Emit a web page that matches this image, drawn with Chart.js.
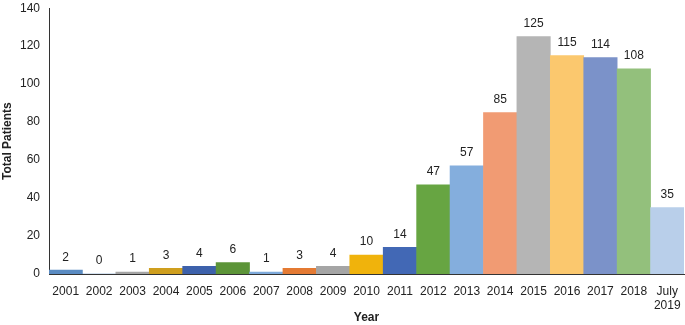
<!DOCTYPE html>
<html>
<head>
<meta charset="utf-8">
<script src="https://cdn.jsdelivr.net/npm/chart.js@4"></script>
<style>
  html, body { margin: 0; padding: 0; background: #fff; overflow: hidden; }
  #wrap { width: 685px; height: 325px; }
</style>
</head>
<body>
<div id="wrap"><canvas id="patients"></canvas></div>
<script>
var years = ["2001","2002","2003","2004","2005","2006","2007","2008","2009","2010",
             "2011","2012","2013","2014","2015","2016","2017","2018",["July","2019"]];
var patients = [2, 0, 1, 3, 4, 6, 1, 3, 4, 10, 14, 47, 57, 85, 125, 115, 114, 108, 35];
var barColors = ["#5a8bc2","#5a8bc2","#a5a5a5","#cf9f1e","#3d61ab","#5c9438","#7eaadb","#e47a33",
                 "#a5a5a5","#f0b30c","#4268b5","#67a542","#84aedd","#f19b73","#b5b5b5",
                 "#fbc86e","#7b92c9","#93c07c","#b9cfea"];
var yTicks = [0, 20, 40, 60, 80, 100, 120, 140];
var fontFam = '"Liberation Sans", Arial, sans-serif';

var valueLabels = {
  id: 'valueLabels',
  afterDatasetsDraw: function(chart) {
    var c = chart.ctx;
    var meta = chart.getDatasetMeta(0);
    c.save();
    c.font = '12px ' + fontFam;
    c.fillStyle = '#222';
    c.textAlign = 'center';
    c.textBaseline = 'bottom';
    meta.data.forEach(function(bar, i) {
      c.fillText(patients[i], bar.x, bar.y - 7);
    });
    c.restore();
  }
};

var ctx = document.getElementById("patients");
var chart = new Chart(ctx, {
  type: 'bar',
  data: {
    labels: years,
    datasets: [{
      data: patients,
      backgroundColor: barColors,
      barPercentage: 1,
      categoryPercentage: 1
    }]
  },
  options: {
    responsive: true,
    maintainAspectRatio: false,
    animation: false,
    layout: { padding: { top: 0, right: 1, left: 0, bottom: 0 } },
    plugins: { legend: { display: false }, tooltip: { enabled: false } },
    scales: {
      x: {
        afterFit: function(axis) { axis.height = 51; },
        grid: { display: false },
        border: { display: true, color: '#333', width: 1 },
        ticks: { color: '#222', font: { size: 12, family: fontFam }, maxRotation: 0, autoSkip: false, padding: 2 },
        title: { display: true, text: 'Year', color: '#222', padding: { top: 0, bottom: 0 },
                 font: { size: 12, weight: 'bold', family: fontFam } }
      },
      y: {
        min: 0,
        max: 140,
        afterFit: function(axis) { axis.width = 49; },
        afterBuildTicks: function(axis) { axis.ticks = yTicks.map(function(v) { return { value: v }; }); },
        grid: { display: false },
        border: { display: true, color: '#333', width: 1 },
        ticks: { color: '#222', padding: 1, font: { size: 12, family: fontFam } },
        title: { display: true, text: 'Total Patients', color: '#222', padding: { top: 0, bottom: 2 },
                 font: { size: 12, weight: 'bold', family: fontFam } }
      }
    }
  },
  plugins: [valueLabels]
});
</script>
</body>
</html>
